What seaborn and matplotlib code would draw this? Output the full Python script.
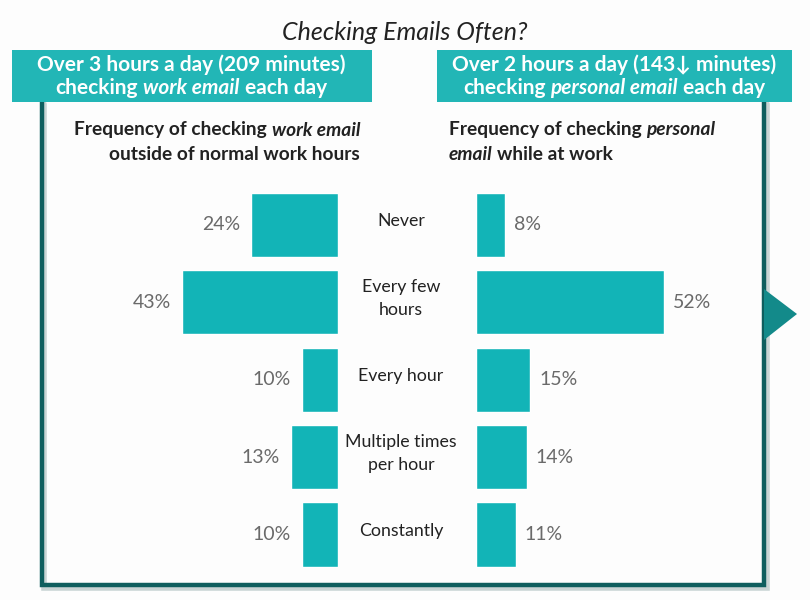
import matplotlib
matplotlib.use("Agg")
import matplotlib.pyplot as plt
import seaborn as sns
import pandas as pd
from matplotlib.patches import Rectangle, Polygon
from matplotlib.lines import Line2D
import matplotlib.transforms as mtransforms

# ---- data ----
categories = ["Never", "Every few\nhours", "Every hour", "Multiple times\nper hour", "Constantly"]
work_pct = [24, 43, 10, 13, 10]
personal_pct = [8, 52, 15, 14, 11]
title = "Checking Emails Often?"

sns.set_theme(style="white")
FAM = ["Lato", "DejaVu Sans"]
plt.rcParams["font.family"] = FAM

W, H = 810, 600
fig = plt.figure(figsize=(W / 100, H / 100), dpi=100)
fig.patch.set_facecolor("#fdfdfd")

def fx(x):
    return x / W

def fy(y):
    return 1 - y / H

BAR = "#12b4b7"
HEAD = "#22b6b6"
FRAME = "#0f5e5e"
PCT = "#6a6a6a"
TXT = "#222222"

renderer = fig.canvas.get_renderer()

def runs(x, y, parts, ha, size, color, weight):
    texts = []
    for s, style in parts:
        t = fig.text(0, 0, s, fontsize=size, fontstyle=style, fontweight=weight,
                     color=color, va="center", ha="left", family=FAM)
        texts.append(t)
    probe1 = fig.text(0, 0, "a a", fontsize=size, fontweight=weight, family=FAM)
    probe2 = fig.text(0, 0, "aa", fontsize=size, fontweight=weight, family=FAM)
    gap = probe1.get_window_extent(renderer).width - probe2.get_window_extent(renderer).width
    probe1.remove(); probe2.remove()
    widths = [t.get_window_extent(renderer).width for t in texts]
    total = sum(widths) + gap * (len(texts) - 1)
    if ha == "right":
        start = x - total
    elif ha == "center":
        start = x - total / 2
    else:
        start = x
    for t, w in zip(texts, widths):
        t.set_position((fx(start), fy(y)))
        start += w + gap

# ---- frame ----
shadow = "#c9d4d4"
for (xs, ys, c, lw) in [
    ([44, 44, 767, 767], [104, 588, 588, 104], shadow, 4),
    ([42, 42, 764, 764], [102, 585, 585, 102], FRAME, 3.2),
]:
    fig.add_artist(Line2D([fx(v) for v in xs], [fy(v) for v in ys], color=c, lw=lw,
                          solid_joinstyle="miter", zorder=1))
fig.add_artist(Polygon([(fx(764), fy(289)), (fx(797), fy(314)), (fx(764), fy(340))],
                       closed=True, facecolor="#138a8a", edgecolor="none", zorder=2))

# ---- header boxes ----
fig.add_artist(Rectangle((fx(12), fy(102)), fx(372) - fx(12), fy(50) - fy(102),
                         facecolor=HEAD, edgecolor="none", zorder=3))
fig.add_artist(Rectangle((fx(437), fy(102)), fx(792) - fx(437), fy(50) - fy(102),
                         facecolor=HEAD, edgecolor="none", zorder=3))

fig.text(fx(405), fy(32), title, fontsize=18, fontstyle="italic", color=TXT,
         ha="center", va="center")

runs(191, 65, [("Over 3 hours a day (209 minutes)", "normal")], "center", 15, "white", "bold")
runs(191, 88, [("checking", "normal"), ("work email", "italic"), ("each day", "normal")],
     "center", 15, "white", "bold")
runs(614, 65, [("Over 2 hours a day (143\u2193 minutes)", "normal")], "center", 15, "white", "bold")
runs(614, 88, [("checking", "normal"), ("personal email", "italic"), ("each day", "normal")],
     "center", 15, "white", "bold")

# ---- subtitles ----
runs(360, 130, [("Frequency of checking", "normal"), ("work email", "italic")], "right", 13.8, TXT, "bold")
runs(360, 155, [("outside of normal work hours", "normal")], "right", 13.8, TXT, "bold")
runs(449, 130, [("Frequency of checking", "normal"), ("personal", "italic")], "left", 13.8, TXT, "bold")
runs(449, 155, [("email", "italic"), ("while at work", "normal")], "left", 13.8, TXT, "bold")

# ---- bar axes ----
px_per_pct = 3.62
y_top, y_bot = 186.3, 573.2
left_l, left_r = 42, 338
right_l, right_r = 476, 764
ax_l = fig.add_axes([fx(left_l), fy(y_bot), fx(left_r) - fx(left_l), fy(y_top) - fy(y_bot)])
ax_r = fig.add_axes([fx(right_l), fy(y_bot), fx(right_r) - fx(right_l), fy(y_top) - fy(y_bot)])

df = pd.DataFrame({"cat": categories, "work": work_pct, "personal": personal_pct})
sns.barplot(data=df, x="work", y="cat", ax=ax_l, orient="h", color=BAR, saturation=1, width=0.83)
sns.barplot(data=df, x="personal", y="cat", ax=ax_r, orient="h", color=BAR, saturation=1, width=0.83)

ax_l.set_xlim((left_r - left_l) / px_per_pct, 0)
ax_r.set_xlim(0, (right_r - right_l) / px_per_pct)
for ax in (ax_l, ax_r):
    ax.set_ylim(4.5, -0.5)
    ax.axis("off")
    ax.patch.set_alpha(0)

for i, v in enumerate(work_pct):
    ax_l.annotate(f"{v}%", (v, i), xytext=(-8, 0), textcoords="offset points",
                  ha="right", va="center", fontsize=14, color=PCT, fontweight="normal")
for i, v in enumerate(personal_pct):
    ax_r.annotate(f"{v}%", (v, i), xytext=(6.5, 0), textcoords="offset points",
                  ha="left", va="center", fontsize=14, color=PCT, fontweight="normal")

trans = mtransforms.blended_transform_factory(fig.transFigure, ax_r.transData)
for i, c in enumerate(categories):
    ax_r.text(fx(401), i - 0.05, c, transform=trans, ha="center", va="center",
              fontsize=12.8, color=TXT, linespacing=1.5)

fig.savefig("out.png", dpi=100, facecolor=fig.get_facecolor())
